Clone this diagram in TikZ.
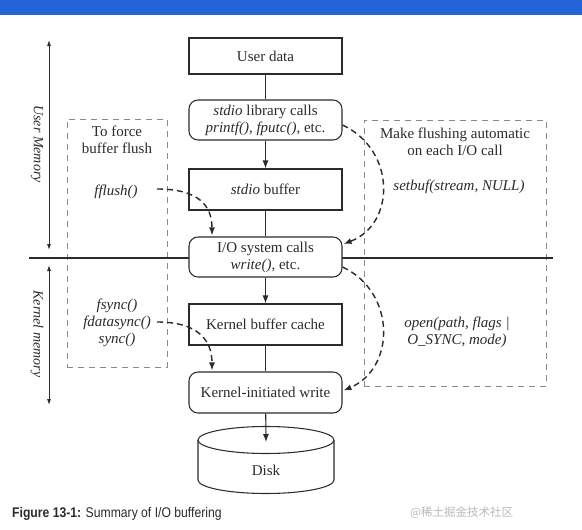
\documentclass[tikz,border=0pt]{standalone}
\usepackage{graphicx}
\usepackage{fontspec}
\setmainfont{Liberation Serif}
\newfontfamily\capfont{Liberation Sans}
\newfontfamily\cjkfont{Noto Sans CJK SC}
\usetikzlibrary{arrows.meta,calc}
\definecolor{ink}{HTML}{2B2B2B}
\definecolor{dashgray}{HTML}{8A8A8A}
\definecolor{topblue}{HTML}{2563D9}
\begin{document}
\begin{tikzpicture}[x=1pt,y=-1pt,
  every node/.style={text=ink, font=\fontsize{15}{17}\selectfont},
  sqbox/.style={draw=ink, line width=1.05pt, fill=white, minimum width=153pt, minimum height=41pt, inner sep=0pt, align=center},
  rbox/.style={sqbox, rounded corners=9pt},
  flow/.style={draw=ink, line width=1.05pt},
  flowarrow/.style={flow, -{Latex[length=8pt,width=6pt]}},
  dasharrow/.style={draw=ink, line width=1.4pt, dash pattern=on 6pt off 4pt, -{Latex[length=8pt,width=6pt]}},
  regionbox/.style={draw=dashgray, line width=1pt, dash pattern=on 6pt off 5pt, inner sep=0pt},
  sidetext/.style={align=center, inner sep=0pt},
  memarrow/.style={draw=ink, line width=0.9pt, {Latex[length=6pt,width=4pt]}-{Latex[length=6pt,width=4pt]}},
  memlabel/.style={rotate=-90, font=\fontsize{14}{16}\selectfont\itshape, inner sep=0pt}
]
\useasboundingbox (0,0) rectangle (582,530);
\fill[white] (0,0) rectangle (582,530);
\fill[topblue] (0,0) rectangle (582,15);

% region boxes
\node[regionbox, minimum width=100pt, minimum height=248pt] (forcebox) at (117,243) {};
\node[regionbox, minimum width=182pt, minimum height=266pt] (autobox) at (455,253) {};

% divider
\coordinate (divl) at (29,257.5);
\coordinate (divr) at (553,257.5);
\draw[ink, line width=2pt] (divl) -- (divr);

% memory arrows
\coordinate (umtop) at (49,40);
\coordinate (umbot) at (49,250);
\coordinate (kmtop) at (49,265);
\coordinate (kmbot) at (49,405);
\draw[memarrow] (umtop) -- (umbot);
\draw[memarrow] (kmtop) -- (kmbot);
\node[memlabel] (umlabel) at (37,144) {User Memory};
\node[memlabel] (kmlabel) at (37,334) {Kernel memory};

% main column
\node[sqbox, minimum height=36pt] (user) at (265.5,56) {User data};
\node[rbox, minimum height=40pt] (lib) at (265.5,120) {\textit{stdio} library calls\\ \textit{printf(), fputc()}, etc.};
\node[sqbox] (buf) at (265.5,189.5) {\textit{stdio} buffer};
\node[rbox, minimum height=40pt] (io) at (265.5,257) {I/O system calls\\ \textit{write()}, etc.};
\node[sqbox] (kbc) at (265.5,324.5) {Kernel buffer cache};
\node[rbox] (kiw) at (265.5,392.5) {Kernel-initiated write};

% disk
\draw[flow, fill=white] (198,440) -- (198,480) .. controls (198,487.46) and (228.44,493.5) .. (266,493.5) .. controls (303.56,493.5) and (334,487.46) .. (334,480) -- (334,440);
\draw[flow, fill=white] (266,440) ellipse [x radius=68, y radius=13.5];
\node (disk) at (266,470) {Disk};
\coordinate (disktop) at (266,442);

% flow connectors
\draw[flow] (user) -- (lib);
\draw[flowarrow] (lib) -- (buf);
\draw[flow] (buf) -- (io);
\draw[flowarrow] (io) -- (kbc);
\draw[flow] (kbc) -- (kiw);
\draw[flowarrow] (kiw) -- (disktop);

% side texts
\node[sidetext] (force) at (117,140) {To force\\buffer flush};
\node (fflush) at (116,192) {\textit{fflush()}};
\node[sidetext] (syncs) at (117,323) {\textit{fsync()}\\ \textit{fdatasync()}\\ \textit{sync()}};
\node[sidetext] (auto) at (455,141.5) {Make flushing automatic\\on each I/O call};
\node (setbuf) at (459,187) {\textit{setbuf(stream, NULL)}};
\node[sidetext] (openc) at (457,332) {\textit{open(path, flags |}\\ \textit{O\_SYNC, mode)}};

% dashed arrows
\coordinate (fflushout) at (157,189);
\coordinate (syncout) at (157,322);
\draw[dasharrow] (fflushout) .. controls (198,189) and (212,205) .. ($(io.north)+(-53.5,-1)$);
\draw[dasharrow] ($(lib.east)+(0,5)$) .. controls (396,150) and (396,224) .. ($(io.east)+(1,-13)$);
\draw[dasharrow] ($(io.east)+(0,10)$) .. controls (396,292) and (396,368) .. ($(kiw.east)+(1,-2)$);
\draw[dasharrow] (syncout) .. controls (198,322) and (212,340) .. ($(kiw.north)+(-53.5,-1)$);

% caption and watermark
\node[anchor=base west, inner sep=0pt, font=\capfont\fontsize{14}{16}\selectfont] (caption) at (12,517) {\scalebox{0.87}[1]{\textbf{Figure 13-1:} Summary of I/O buffering}};
\node[anchor=base west, inner sep=0pt, text=gray!55, font=\cjkfont\fontsize{11.5}{13}\selectfont] (wm) at (410,516) {@稀土掘金技术社区};
\end{tikzpicture}
\end{document}
